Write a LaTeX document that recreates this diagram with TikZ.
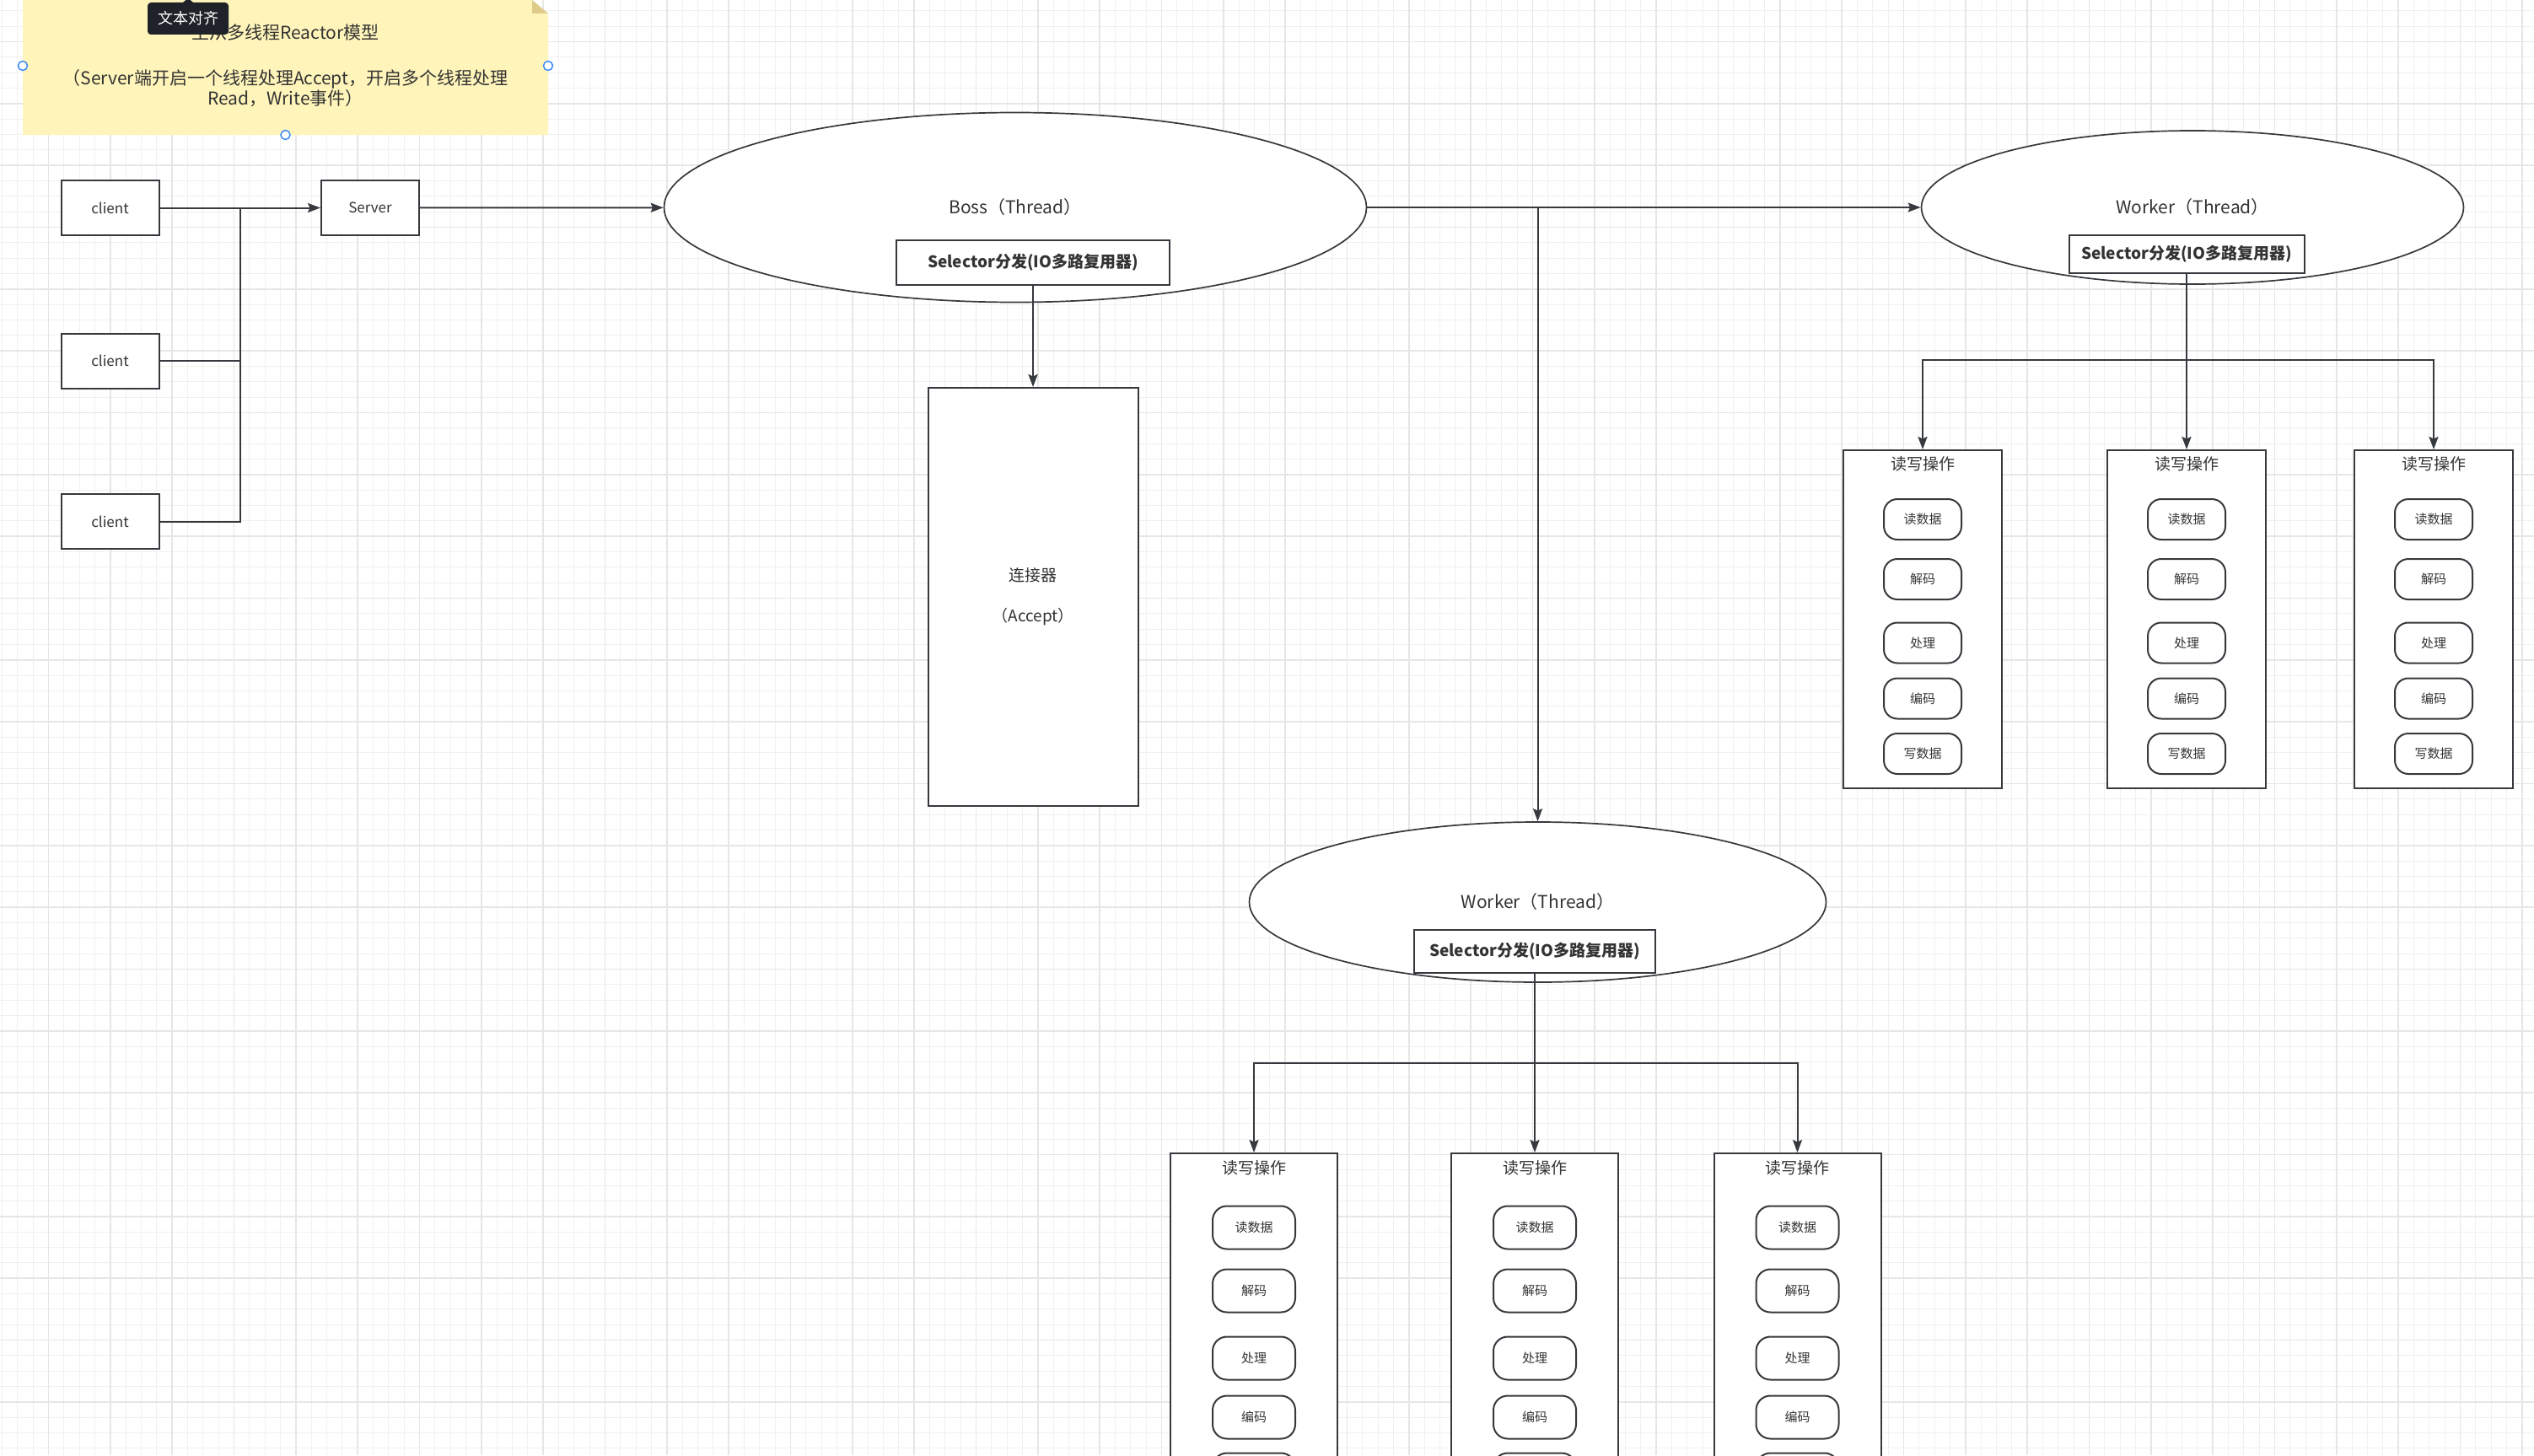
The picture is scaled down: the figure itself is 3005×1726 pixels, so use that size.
\documentclass[tikz,border=0pt]{standalone}
\usepackage{fontspec}
\setmainfont{Noto Sans CJK SC}
\usepackage{tikz}
\usetikzlibrary{arrows.meta,positioning,shapes.geometric}
\definecolor{ink}{HTML}{36393D}
\definecolor{txt}{HTML}{333333}
\definecolor{notebg}{HTML}{FFF5BA}
\definecolor{fold}{HTML}{DECB8A}
\definecolor{tipbg}{HTML}{1F2329}
\definecolor{hdl}{HTML}{3D8AF7}
\definecolor{gmin}{HTML}{F0F0F0}
\definecolor{gmaj}{HTML}{E6E6E6}

\begin{document}
\begin{tikzpicture}[x=1pt,y=-1pt,
  box/.style={draw=ink,line width=2pt,fill=white,text=txt,inner sep=0pt,
    minimum width=116pt,minimum height=65pt,font=\fontsize{17}{20}\selectfont},
  thread/.style={ellipse,draw=ink,line width=1.7pt,fill=white,text=txt,inner sep=0pt,
    font=\fontsize{21}{25}\selectfont},
  sel/.style={draw=ink,line width=2pt,fill=white,text=txt,inner sep=0pt,
    font=\bfseries\fontsize{19}{22}\selectfont},
  rwbox/.style={draw=ink,line width=2pt,fill=white,inner sep=0pt,anchor=north},
  rwtitle/.style={text=txt,inner sep=0pt,font=\fontsize{19}{22}\selectfont},
  op/.style={draw=ink,line width=2pt,fill=white,text=txt,inner sep=0pt,
    rounded corners=16pt,font=\fontsize{15}{18}\selectfont},
  wire/.style={draw=ink,line width=2pt},
  arr/.style={wire,-{Stealth[length=15pt,width=11pt,inset=2.5pt]}}]
\useasboundingbox (0,0) rectangle (3005,1726);
\clip (0,0) rectangle (3005,1726);
% canvas grid
\fill[white] (0,0) rectangle (3005,1726);
\foreach \i in {0,...,164} \draw[gmin,line width=1pt] ({2.5+18.333*\i},0) -- ++(0,1726);
\foreach \j in {0,...,94} \draw[gmin,line width=1pt] (0,{12.8+18.333*\j}) -- ++(3005,0);
\foreach \i in {0,...,41} \draw[gmaj,line width=1.6pt] ({-15.8+73.333*\i},0) -- ++(0,1726);
\foreach \j in {0,...,24} \draw[gmaj,line width=1.6pt] (0,{-23.8+73.333*\j}) -- ++(3005,0);
% sticky note with its folded corner
\fill[notebg] (27,0) -- (631,0) -- (650,16) -- (650,160) -- (27,160) -- cycle;
\fill[fold] (631,0) -- (650,16) -- (631,16) -- cycle;
\node[text=txt,inner sep=0pt,font=\fontsize{21}{24.5}\selectfont] (ntitle) at (338.5,39)
  {主从多线程Reactor模型};
\node[text=txt,inner sep=0pt,align=center,font=\fontsize{21}{24.5}\selectfont] (nbody) at (338.5,104.5)
  {（Server端开启一个线程处理Accept，开启多个线程处理\\Read，Write事件）};
% editor tooltip and selection handles
\node[fill=tipbg,rounded corners=4pt,text=white,inner sep=0pt,minimum width=96pt,
  minimum height=38pt,font=\fontsize{18}{20}\selectfont] (tip) at (223,22) {文本对齐};
\fill[tipbg] (tip.north) ++(-7,1) -- ++(7,-6) -- ++(7,6) -- cycle;
\foreach \p in {(27,78),(650,78),(338.5,160)}
  \filldraw[fill=white,draw=hdl,line width=1.5pt] \p circle[radius=5.5pt];
% clients and server
\node[box] (c1) at (130.5,246.5) {client};
\node[box] (c2) at (130.5,428) {client};
\node[box] (c3) at (130.5,618.5) {client};
\node[box] (srv) at (439,246.5) {Server};
\coordinate (jn) at (285,246.5);
\draw[arr] (c1) -- (srv);
\draw[wire] (c2) -| (jn);
\draw[wire] (c3) -| (jn);
% boss thread and acceptor
\node[thread,minimum width=833pt,minimum height=225pt] (boss) at (1204,246) {Boss（Thread）};
\node[sel,minimum width=324pt,minimum height=53pt] (bsel) at (1225,311.5) {Selector分发(IO多路复用器)};
\node[box,minimum width=249pt,minimum height=496pt,align=center,
  font=\fontsize{19}{24}\selectfont] (acc) at (1225,708) {连接器\\[24pt]（Accept）};
\draw[arr] (srv) -- (boss);
\draw[arr] (bsel) -- (acc);
% worker threads
\node[thread,minimum width=643pt,minimum height=182pt] (wk1) at (2600,246) {Worker（Thread）};
\node[sel,minimum width=279pt,minimum height=45pt] (ws1) at (2593,301.5) {Selector分发(IO多路复用器)};
\node[thread,minimum width=684pt,minimum height=190pt] (wk2) at (1823.5,1070) {Worker（Thread）};
\node[sel,minimum width=286pt,minimum height=51pt] (ws2) at (1820,1128.5) {Selector分发(IO多路复用器)};
\coordinate (jb) at (1823.5,246);
\draw[arr] (boss) -- (wk1);
\draw[wire] (boss.east) -- (jb);
\draw[arr] (jb) -- (wk2);
% read/write groups of the upper worker
\foreach \k/\x in {1/2280,2/2593,3/2886}{
  \node[rwbox,minimum width=188pt,minimum height=401pt] (ra\k) at (\x,533) {};
  \node[rwtitle,below=8pt of ra\k.north] (ra\k-t) {读写操作};
  \foreach \n/\t/\d in {1/读数据/83,2/解码/154,3/处理/229.5,4/编码/295.5,5/写数据/361}
    \node[op,minimum width=92pt,minimum height=48pt] (ra\k-\n) at (\x,533+\d) {\t};
}
\coordinate (jw1) at (2593,427);
\draw[wire] (ws1) -- (jw1);
\draw[arr] (jw1) -| (ra1);
\draw[arr] (jw1) -- (ra2);
\draw[arr] (jw1) -| (ra3);
% read/write groups of the lower worker (cut by the lower edge)
\foreach \k/\x in {1/1487,2/1820,3/2131.5}{
  \node[rwbox,minimum width=198pt,minimum height=423pt] (rb\k) at (\x,1367) {};
  \node[rwtitle,below=9pt of rb\k.north] (rb\k-t) {读写操作};
  \foreach \n/\t/\d in {1/读数据/89,2/解码/164,3/处理/244,4/编码/314}
    \node[op,minimum width=98pt,minimum height=51pt,rounded corners=17pt] (rb\k-\n) at (\x,1367+\d) {\t};
  \node[op,minimum width=98pt,minimum height=51pt,rounded corners=17pt] (rb\k-5) at (\x,1749) {};
}
\coordinate (jw2) at (1820,1261);
\draw[wire] (ws2) -- (jw2);
\draw[arr] (jw2) -| (rb1);
\draw[arr] (jw2) -- (rb2);
\draw[arr] (jw2) -| (rb3);
\end{tikzpicture}
\end{document}
